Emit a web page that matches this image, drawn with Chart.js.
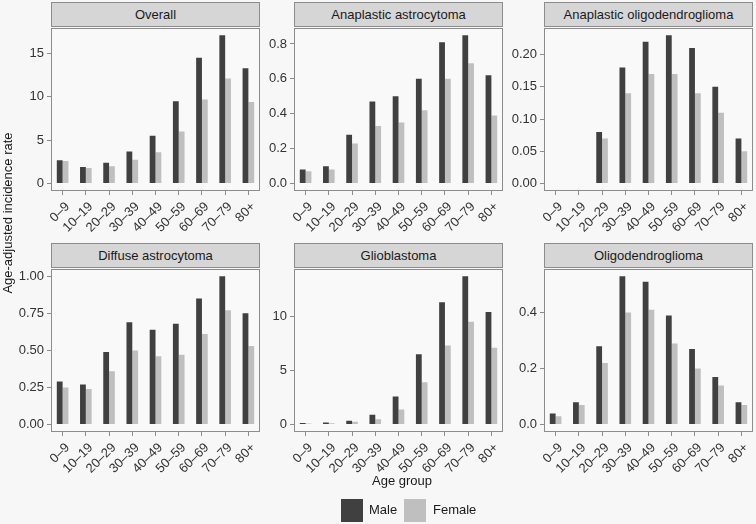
<!DOCTYPE html>
<html><head><meta charset="utf-8">
<script src="https://cdn.jsdelivr.net/npm/chart.js@4.4.0/dist/chart.umd.min.js"></script>
<style>
html,body{margin:0;padding:0;background:#f7f7f7;}
#wrap{position:relative;width:756px;height:524px;overflow:hidden;background:#f7f7f7;font-family:"Liberation Sans",Arial,sans-serif;color:#1a1a1a;}
.strip{position:absolute;box-sizing:border-box;height:25px;background:#d6d6d6;border:1px solid #8c8c8c;font-size:13px;line-height:23px;text-align:center;color:#1a1a1a;white-space:nowrap;}
canvas{position:absolute;}
.lbl{position:absolute;font-size:13px;line-height:16px;color:#1a1a1a;white-space:nowrap;}
.key{position:absolute;width:22px;height:23px;}
</style>
</head><body>
<div id="wrap"></div>
<script>
// ---- data ----
const ageGroups = ['0–9','10–19','20–29','30–39','40–49','50–59','60–69','70–79','80+'];
const seriesNames = ['Male','Female'];
const panelTitles = ['Overall','Anaplastic astrocytoma','Anaplastic oligodendroglioma','Diffuse astrocytoma','Glioblastoma','Oligodendroglioma'];

const overallMale   = [2.7, 1.9, 2.4, 3.7, 5.5, 9.5, 14.5, 17.1, 13.3];
const overallFemale = [2.6, 1.8, 2.0, 2.75, 3.6, 6.0, 9.7, 12.1, 9.4];
const aaMale   = [0.08, 0.10, 0.28, 0.47, 0.50, 0.60, 0.81, 0.85, 0.62];
const aaFemale = [0.07, 0.08, 0.23, 0.33, 0.35, 0.42, 0.60, 0.69, 0.39];
const aoMale   = [0, 0, 0.08, 0.18, 0.22, 0.23, 0.21, 0.15, 0.07];
const aoFemale = [0, 0, 0.07, 0.14, 0.17, 0.17, 0.14, 0.11, 0.05];
const daMale   = [0.29, 0.27, 0.49, 0.69, 0.64, 0.68, 0.85, 1.00, 0.75];
const daFemale = [0.25, 0.24, 0.36, 0.50, 0.46, 0.47, 0.61, 0.77, 0.53];
const gbmMale   = [0.15, 0.2, 0.35, 0.9, 2.6, 6.5, 11.3, 13.7, 10.4];
const gbmFemale = [0.1, 0.12, 0.25, 0.5, 1.4, 3.9, 7.3, 9.5, 7.1];
const oligoMale   = [0.04, 0.08, 0.28, 0.53, 0.51, 0.39, 0.27, 0.17, 0.08];
const oligoFemale = [0.03, 0.07, 0.22, 0.40, 0.41, 0.29, 0.20, 0.14, 0.07];

const overallTicks = [0, 5, 10, 15];            const overallTickLabels = ['0','5','10','15'];
const aaTicks = [0, 0.2, 0.4, 0.6, 0.8];        const aaTickLabels = ['0.0','0.2','0.4','0.6','0.8'];
const aoTicks = [0, 0.05, 0.10, 0.15, 0.20];    const aoTickLabels = ['0.00','0.05','0.10','0.15','0.20'];
const daTicks = [0, 0.25, 0.5, 0.75, 1.0];      const daTickLabels = ['0.00','0.25','0.50','0.75','1.00'];
const gbmTicks = [0, 5, 10];                    const gbmTickLabels = ['0','5','10'];
const oligoTicks = [0, 0.2, 0.4];               const oligoTickLabels = ['0.0','0.2','0.4'];

const yTitle = 'Age-adjusted incidence rate';
const xTitle = 'Age group';

// ---- style / layout ----
const maleColor = '#404040', femaleColor = '#bfbfbf';
const frameColor = '#8c8c8c', panelBg = '#f9f9f9', tickColor = '#333333';
const FONT = '"Liberation Sans", Arial, sans-serif';
const colLeft = [51, 294, 544];
const rowTop = [27, 268];
const stripTop = [2, 243];
const PW = 209, PH = 164, YW = 46, XH = 50, PT = 10, PR = 12;

const panels = [
  [panelTitles[0], overallMale, overallFemale, overallTicks, overallTickLabels],
  [panelTitles[1], aaMale, aaFemale, aaTicks, aaTickLabels],
  [panelTitles[2], aoMale, aoFemale, aoTicks, aoTickLabels],
  [panelTitles[3], daMale, daFemale, daTicks, daTickLabels],
  [panelTitles[4], gbmMale, gbmFemale, gbmTicks, gbmTickLabels],
  [panelTitles[5], oligoMale, oligoFemale, oligoTicks, oligoTickLabels]
];

const panelFrame = {
  id: 'panelFrame',
  beforeDraw(chart) {
    const {ctx, chartArea: a} = chart;
    ctx.save(); ctx.fillStyle = panelBg; ctx.fillRect(a.left, a.top, a.width, a.height); ctx.restore();
  },
  afterDraw(chart) {
    const {ctx, chartArea: a} = chart;
    ctx.save(); ctx.strokeStyle = frameColor; ctx.lineWidth = 1;
    ctx.strokeRect(Math.round(a.left) + 0.5, Math.round(a.top) + 0.5, Math.round(a.width) - 1, Math.round(a.height) - 1);
    ctx.restore();
  }
};

const wrap = document.getElementById('wrap');
function addDiv(cls, text, css) {
  const d = document.createElement('div'); d.className = cls; if (text) d.textContent = text;
  Object.assign(d.style, css); wrap.appendChild(d); return d;
}

panels.forEach((p, i) => {
  const [title, male, female, tVals, tLabels] = p;
  const c = i % 3, r = Math.floor(i / 3);
  const canvas = document.createElement('canvas');
  const w = YW + PW + PR, h = PT + PH + XH;
  canvas.width = w; canvas.height = h;
  canvas.style.width = w + 'px'; canvas.style.height = h + 'px';
  canvas.style.left = (colLeft[c] - YW) + 'px';
  canvas.style.top = (rowTop[r] - PT) + 'px';
  wrap.appendChild(canvas);
  const maxV = Math.max(...male, ...female);
  new Chart(canvas, {
    type: 'bar',
    data: {
      labels: ageGroups,
      datasets: [
        {label: seriesNames[0], data: male, backgroundColor: maleColor, categoryPercentage: 0.5, barPercentage: 1.0},
        {label: seriesNames[1], data: female, backgroundColor: femaleColor, categoryPercentage: 0.5, barPercentage: 1.0}
      ]
    },
    options: {
      responsive: false, animation: false, devicePixelRatio: 1,
      layout: {padding: {top: PT, right: PR, left: 0, bottom: 0}},
      plugins: {legend: {display: false}, tooltip: {enabled: false}, title: {display: false}},
      scales: {
        x: {
          offset: true,
          grid: {display: true, drawOnChartArea: false, drawTicks: true, tickLength: 4, color: frameColor, offset: false},
          border: {display: false},
          ticks: {color: tickColor, font: {family: FONT, size: 13}, maxRotation: 45, minRotation: 45, autoSkip: false, padding: 4, labelOffset: 5},
          afterFit(s) { s.height = XH; }
        },
        y: {
          min: -0.05 * maxV, max: 1.05 * maxV,
          grid: {display: true, drawOnChartArea: false, drawTicks: true, tickLength: 4, color: frameColor},
          border: {display: false},
          ticks: {color: tickColor, font: {family: FONT, size: 13}, padding: 3,
                  callback: (v) => { const k = tVals.findIndex(t => Math.abs(t - v) < 1e-9); return k >= 0 ? tLabels[k] : ''; }},
          afterBuildTicks(s) { s.ticks = tVals.map(v => ({value: v})); },
          afterFit(s) { s.width = YW; }
        }
      }
    },
    plugins: [panelFrame]
  });
  addDiv('strip', title, {left: colLeft[c] + 'px', top: stripTop[r] + 'px', width: PW + 'px'});
});

// axis titles
addDiv('lbl', yTitle, {left: (8 - 150) + 'px', top: (213 - 8) + 'px', width: '300px', textAlign: 'center', transform: 'rotate(-90deg)', transformOrigin: '50% 50%'});
addDiv('lbl', xTitle, {left: (402 - 150) + 'px', top: '473px', width: '300px', textAlign: 'center'});
// legend
addDiv('key', '', {left: '341px', top: '499px', background: maleColor});
addDiv('lbl', seriesNames[0], {left: '369px', top: '502px'});
addDiv('key', '', {left: '404px', top: '499px', background: femaleColor});
addDiv('lbl', seriesNames[1], {left: '433px', top: '502px'});
</script>
</body></html>
